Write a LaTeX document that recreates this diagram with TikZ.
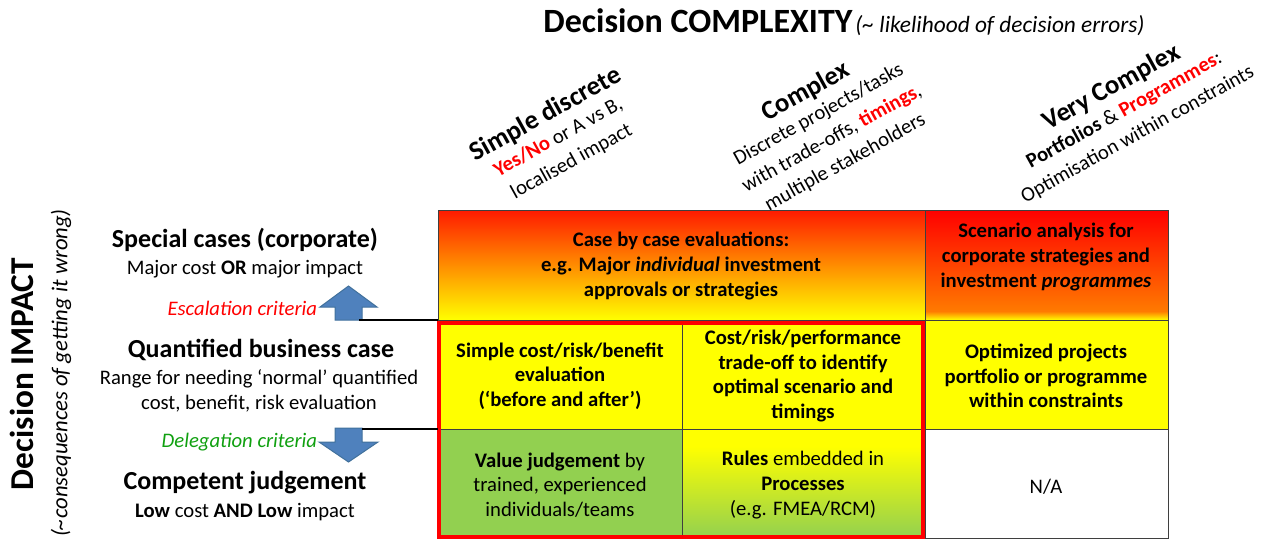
\documentclass[tikz,border=0pt]{standalone}
\usepackage{fontspec}
\setmainfont{Carlito}
\usetikzlibrary{positioning}

\definecolor{matrix-red}{HTML}{FF1A00}
\definecolor{matrix-orange}{HTML}{FF7A00}
\definecolor{matrix-yellow}{HTML}{FFFF00}
\definecolor{matrix-green}{HTML}{92D050}
\definecolor{matrix-line}{HTML}{3F3F3F}
\definecolor{arrow-blue}{HTML}{4F81BD}
\definecolor{arrow-rim}{HTML}{41719C}
\definecolor{crit-red}{HTML}{FF0000}
\definecolor{crit-green}{HTML}{10A010}

\pgfdeclareverticalshading{programmes}{100bp}{color(0bp)=(matrix-yellow); color(25bp)=(matrix-yellow); color(29bp)=(matrix-orange); color(75bp)=(red); color(100bp)=(red)}
\pgfdeclareverticalshading{rulesfade}{100bp}{color(0bp)=(matrix-green); color(25bp)=(matrix-green); color(67bp)=(matrix-yellow); color(100bp)=(matrix-yellow)}

\begin{document}
\begin{tikzpicture}[x=0.75pt, y=-0.75pt,
    every node/.style={inner sep=0pt, outer sep=0pt},
    cell/.style={draw=matrix-line, line width=0.75pt},
    celltext/.style={align=center, font=\fontsize{15.5}{18.4}\selectfont\bfseries},
    cellplain/.style={align=center, font=\fontsize{15.5}{18.4}\selectfont},
    colhead/.style={align=center, rotate=29, font=\fontsize{15.5}{20.5}\selectfont},
    rowhead/.style={anchor=base, font=\fontsize{19.5}{22}\selectfont\bfseries},
    rowsub/.style={anchor=base, font=\fontsize{15.5}{18}\selectfont},
    criterion/.style={anchor=base east, font=\fontsize{15.5}{18}\selectfont\itshape},
    blockarrow/.style={fill=arrow-blue, draw=arrow-rim, line width=0.75pt, line join=miter},
    connector/.style={draw=black, line width=1pt}]

    \useasboundingbox (0,0) rectangle (1266,544);

    % titles
    \node[anchor=base] (complexity) at (844,32) {{\fontsize{25.5}{30}\selectfont\bfseries Decision COMPLEXITY} {\fontsize{17.5}{20}\selectfont\itshape (\textasciitilde{} likelihood of decision errors)}};
    \node[rotate=90, font=\fontsize{25}{30}\selectfont\bfseries] (impact) at (22,374) {Decision IMPACT};
    \node[rotate=90, font=\fontsize{17}{20}\selectfont\itshape] (consequences) at (61,373) {(\textasciitilde consequences of getting it wrong)};

    % column headers
    \node[colhead] (simple) at (558,137) {{\fontsize{20}{22}\selectfont\bfseries Simple discrete}\\[-2.1pt]{\color{crit-red}\bfseries Yes/No} or A vs B,\\localised impact};
    \node[colhead] (complex) at (825,126) {{\fontsize{20}{22}\selectfont\bfseries Complex}\\[-2.1pt]Discrete projects/tasks\\with trade-offs, {\color{crit-red}\bfseries timings},\\multiple stakeholders};
    \node[colhead] (verycomplex) at (1124,110) {{\fontsize{20}{22}\selectfont\bfseries Very Complex}\\[-2.1pt]{\bfseries Portfolios} \& {\color{crit-red}\bfseries Programmes}:\\Optimisation within constraints};

    % row headers
    \node[rowhead] (special) at (245,247) {Special cases (corporate)};
    \node[rowsub] (majorcost) at (245,274) {Major cost \textbf{OR} major impact};
    \node[rowhead] (quantified) at (261,357) {Quantified business case};
    \node[rowsub] (range) at (259,384) {Range for needing ‘normal’ quantified};
    \node[rowsub] (costbenefit) at (259,409) {cost, benefit, risk evaluation};
    \node[rowhead] (competent) at (245,489) {Competent judgement};
    \node[rowsub] (lowcost) at (245,517) {\textbf{Low} cost \textbf{AND} \textbf{Low} impact};

    % cells
    \path[cell, top color=matrix-red, bottom color=matrix-yellow] (438,210) rectangle (925,320);
    \path[cell, shading=programmes] (925,210) rectangle (1168,320);
    \path[cell, fill=matrix-yellow] (438,320) rectangle (682,429);
    \path[cell, fill=matrix-yellow] (682,320) rectangle (925,429);
    \path[cell, fill=matrix-yellow] (925,320) rectangle (1168,429);
    \path[cell, fill=matrix-green] (438,429) rectangle (682,538);
    \path[cell, shading=rulesfade] (682,429) rectangle (925,538);
    \path[cell, fill=white] (925,429) rectangle (1168,538);

    % cell texts
    \node[celltext] (casebycase) at (681,266) {Case by case evaluations:\\e.g. Major \textit{individual} investment\\approvals or strategies};
    \node[celltext] (scenario) at (1046,257) {Scenario analysis for\\corporate strategies and\\investment \textit{programmes}};
    \node[celltext] (simplecost) at (560,376) {Simple cost/risk/benefit\\evaluation\\(‘before and after’)};
    \node[celltext] (tradeoff) at (803,376) {Cost/risk/performance\\trade-off to identify\\optimal scenario and\\timings};
    \node[celltext] (optimized) at (1046,376) {Optimized projects\\portfolio or programme\\within constraints};
    \node[cellplain] (valuejudge) at (560,485) {\textbf{Value judgement} by\\trained, experienced\\individuals/teams};
    \node[cellplain] (rules) at (803,485) {\textbf{Rules} embedded in\\\textbf{Processes}\\(e.g. FMEA/RCM)};
    \node[cellplain] (na) at (1046,487) {N/A};

    % focus frame
    \draw[crit-red, line width=3.4pt] (439,323) rectangle (923,537);

    % criteria arrows
    \draw[blockarrow] (335,320) -- (335,307) -- (320,307) -- (348.5,286) -- (377,307) -- (362,307) -- (362,320) -- cycle;
    \draw[blockarrow] (335,428) -- (362,428) -- (362,442) -- (378,442) -- (348.5,462) -- (319,442) -- (335,442) -- cycle;
    \coordinate (escfoot) at (359,320);
    \coordinate (escgrid) at (438,320);
    \coordinate (delfoot) at (362,429);
    \coordinate (delgrid) at (438,429);
    \draw[connector] (escfoot) -- (escgrid);
    \draw[connector] (delfoot) -- (delgrid);
    \node[criterion, text=crit-red] (escalation) at (317,315) {Escalation criteria};
    \node[criterion, text=crit-green] (delegation) at (317,447) {Delegation criteria};

\end{tikzpicture}
\end{document}
